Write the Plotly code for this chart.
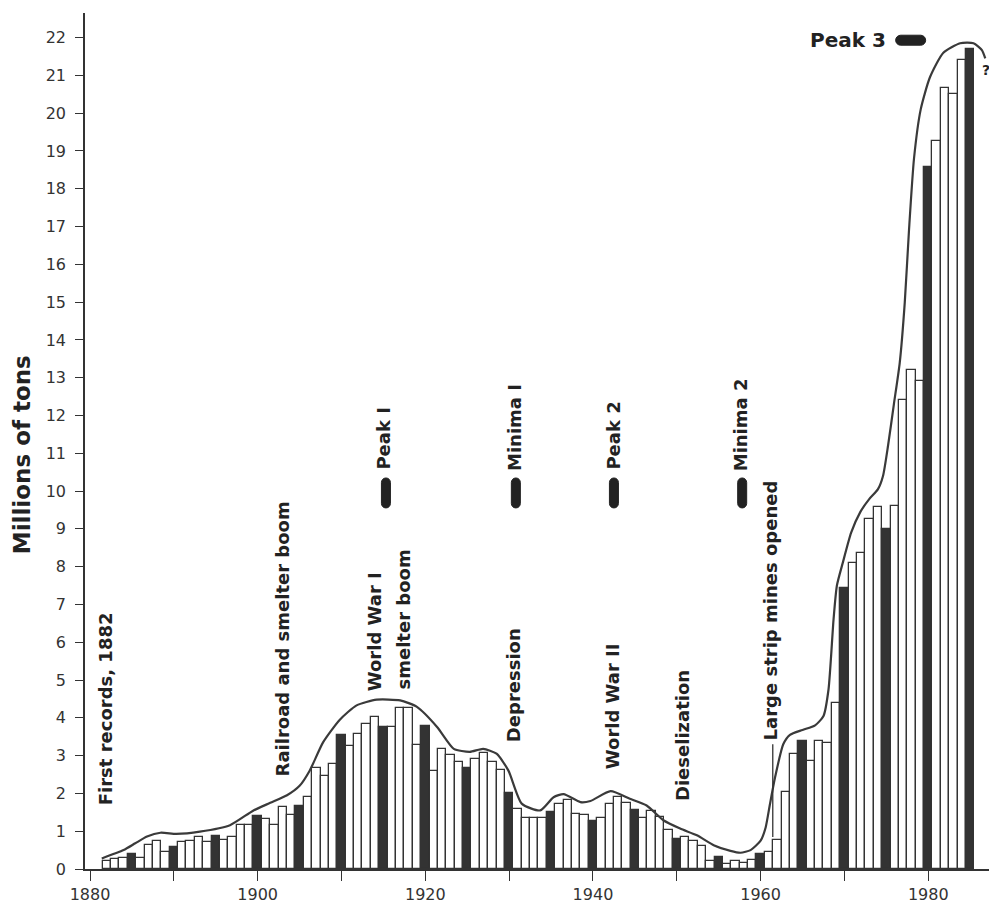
import plotly.graph_objects as go

# ---------------- data ----------------
years = list(range(1882, 1986))
production = [
    0.22, 0.26, 0.29, 0.40, 0.30, 0.63, 0.74, 0.46,             # 1882-1889
    0.57, 0.71, 0.73, 0.86, 0.72, 0.87, 0.77, 0.86, 1.16, 1.16,  # 1890-1899
    1.41, 1.31, 1.16, 1.65, 1.43, 1.67, 1.90, 2.67, 2.45, 2.79,  # 1900-1909
    3.55, 3.25, 3.56, 3.84, 4.01, 3.77, 3.77, 4.27, 4.25, 3.27,  # 1910-1919
    3.79, 2.60, 3.18, 3.01, 2.82, 2.66, 2.90, 3.08, 2.84, 2.62,  # 1920-1929
    2.00, 1.60, 1.34, 1.34, 1.34, 1.52, 1.71, 1.83, 1.46, 1.44,  # 1930-1939
    1.27, 1.36, 1.71, 1.90, 1.74, 1.55, 1.34, 1.54, 1.37, 1.04,  # 1940-1949
    0.79, 0.86, 0.73, 0.61, 0.21, 0.33, 0.13, 0.21, 0.17, 0.24,  # 1950-1959
    0.40, 0.44, 0.78, 2.03, 3.03, 3.40, 2.87, 3.40, 3.33, 4.40,  # 1960-1969
    7.43, 8.09, 8.36, 9.26, 9.58, 9.00, 9.60, 12.41, 13.20, 12.90,  # 1970-1979
    18.57, 19.26, 20.66, 20.50, 21.40, 21.70,                    # 1980-1985
]

env_years = [1881.4, 1884.0, 1885.4, 1886.8, 1888.4, 1890.3, 1893.1, 1896.7,
             1899.5, 1901.5, 1903.5, 1905.0, 1906.2, 1907.8, 1909.8, 1911.8,
             1914.2, 1917.0, 1919.0, 1921.4, 1923.4, 1925.3, 1926.9, 1928.5,
             1929.9, 1931.5, 1933.7, 1935.3, 1936.5, 1938.5, 1939.7, 1942.1,
             1944.4, 1946.4, 1948.4, 1950.4, 1952.4, 1954.4, 1956.4, 1957.6,
             1958.8, 1960.0, 1960.6, 1961.1, 1961.7, 1962.7, 1963.5, 1965.0,
             1966.5, 1967.5, 1968.1, 1968.7, 1969.1, 1969.8, 1970.8, 1971.9,
             1973.0, 1974.0, 1974.6, 1975.2, 1975.9, 1976.6, 1977.2, 1977.7,
             1978.3, 1979.1, 1980.2, 1981.8, 1983.8, 1985.4, 1986.4, 1986.8]
env_values = [0.28, 0.50, 0.68, 0.86, 0.96, 0.93, 0.99, 1.16,
              1.55, 1.75, 1.95, 2.20, 2.60, 3.35, 3.95, 4.33,
              4.48, 4.46, 4.29, 3.76, 3.18, 3.10, 3.18, 3.05,
              2.61, 1.73, 1.55, 1.90, 1.98, 1.77, 1.80, 2.06,
              1.86, 1.68, 1.29, 1.07, 0.89, 0.63, 0.48, 0.43,
              0.50, 0.75, 1.10, 1.70, 2.40, 3.30, 3.55, 3.68,
              3.80, 4.05, 4.75, 6.60, 7.50, 8.10, 8.90, 9.45,
              9.80, 10.05, 10.40, 11.20, 12.30, 13.40, 15.00, 16.90,
              18.80, 20.10, 20.95, 21.60, 21.85, 21.85, 21.67, 21.45]

x_tickvals = list(range(1880, 1990, 10))
x_ticktext = ["1880", "", "1900", "", "1920", "", "1940", "", "1960", "", "1980"]
y_tickvals = list(range(0, 23))

INK = "#333333"
TICKFONT = "DejaVu Sans, Verdana, sans-serif"
LABELFONT = "DejaVu Sans, Verdana, sans-serif"

bar_colors = [INK if y % 5 == 0 else "white" for y in years]

fig = go.Figure()
fig.add_trace(go.Bar(
    x=years, y=production, width=1.0,
    marker=dict(color=bar_colors, line=dict(color=INK, width=1.3)),
    hoverinfo="x+y", showlegend=False,
))
fig.add_trace(go.Scatter(
    x=env_years, y=env_values, mode="lines",
    line=dict(color="#3a3a3a", width=2.2, shape="spline", smoothing=0.6),
    hoverinfo="skip", showlegend=False,
))

# ---------------- annotations ----------------
def vtext(x, y, text, size=18):
    fig.add_annotation(x=x, y=y, text=text, showarrow=False, textangle=-90,
                       xanchor="center", yanchor="middle",
                       font=dict(family=LABELFONT, size=size, color="#222222", weight="bold"))

vtext(1881.8, 4.23, "First records, 1882")
vtext(1902.9, 6.10, "Railroad and smelter boom")
vtext(1913.9, 6.27, "World War I")
vtext(1917.4, 6.59, "smelter boom")
vtext(1915.0, 11.40, "Peak I")
vtext(1930.7, 11.67, "Minima I")
vtext(1942.4, 11.47, "Peak 2")
vtext(1957.7, 11.75, "Minima 2")
vtext(1930.6, 4.87, "Depression")
vtext(1942.35, 4.30, "World War II")
vtext(1950.6, 3.54, "Dieselization")
vtext(1961.15, 6.85, "Large strip mines opened")

fig.add_annotation(x=1970.45, y=21.93, text="Peak 3", showarrow=False,
                   xanchor="center", yanchor="middle",
                   font=dict(family=LABELFONT, size=20, color="#222222", weight="bold"))
fig.add_annotation(x=1986.9, y=21.15, text="?", showarrow=False,
                   xanchor="center", yanchor="middle",
                   font=dict(family=LABELFONT, size=14, color="#222222", weight="bold"))

# y-axis title (placed as a rotated annotation left of the tick labels)
fig.add_annotation(xref="paper", x=0, xshift=-63, y=10.95, yref="y",
                   text="Millions of tons", showarrow=False, textangle=-90,
                   xanchor="center", yanchor="middle",
                   font=dict(family=LABELFONT, size=23, color="#222222", weight="bold"))

# pill markers (pixel-sized stadium shapes)
def pill_path(w, h):
    k = 0.5523
    if h >= w:
        r = w / 2.0
        a = h / 2.0 - r
        return (f"M {-r},{-a} L {-r},{a} "
                f"C {-r},{a + k*r} {-k*r},{a + r} 0,{a + r} "
                f"C {k*r},{a + r} {r},{a + k*r} {r},{a} "
                f"L {r},{-a} "
                f"C {r},{-a - k*r} {k*r},{-a - r} 0,{-a - r} "
                f"C {-k*r},{-a - r} {-r},{-a - k*r} {-r},{-a} Z")
    r = h / 2.0
    a = w / 2.0 - r
    return (f"M {-a},{r} L {a},{r} "
            f"C {a + k*r},{r} {a + r},{k*r} {a + r},0 "
            f"C {a + r},{-k*r} {a + k*r},{-r} {a},{-r} "
            f"L {-a},{-r} "
            f"C {-a - k*r},{-r} {-a - r},{-k*r} {-a - r},0 "
            f"C {-a - r},{k*r} {-a - k*r},{r} {-a},{r} Z")

for ax_x, ax_y, w, h in [(1915.3, 9.95, 9, 30), (1930.8, 9.95, 9, 30),
                         (1942.5, 9.95, 9, 30), (1957.8, 9.95, 9, 30),
                         (1977.9, 21.93, 30, 10)]:
    fig.add_shape(type="path", xref="x", yref="y", xsizemode="pixel", ysizemode="pixel",
                  xanchor=ax_x, yanchor=ax_y, path=pill_path(w, h),
                  fillcolor="#222222", line=dict(color="#222222", width=1))

# leader line for strip mines
fig.add_shape(type="line", xref="x", yref="y", x0=1961.45, x1=1961.45, y0=3.30, y1=0.85,
              line=dict(color=INK, width=1.3))

# The page body adds an 8 px margin, so the figure is sized to compensate.
fig.update_layout(
    width=989, height=898,
    margin=dict(l=77, r=0, t=5, b=37),
    plot_bgcolor="white", paper_bgcolor="white",
    bargap=0,
    font=dict(family=TICKFONT, color=INK),
    xaxis=dict(range=[1879.4, 1988.2], tickvals=x_tickvals, ticktext=x_ticktext,
               ticks="outside", ticklen=10, tickwidth=1.3, tickcolor=INK,
               showline=True, linecolor=INK, linewidth=1.6,
               showgrid=False, zeroline=False,
               tickfont=dict(size=16, family=TICKFONT, color=INK)),
    yaxis=dict(range=[0, 22.65], tickvals=y_tickvals,
               ticks="outside", ticklen=8, tickwidth=1.3, tickcolor=INK,
               showline=True, linecolor=INK, linewidth=1.6,
               showgrid=False, zeroline=False, ticklabelstandoff=6,
               tickfont=dict(size=16, family=TICKFONT, color=INK)),
)

fig.write_html("out.html")
